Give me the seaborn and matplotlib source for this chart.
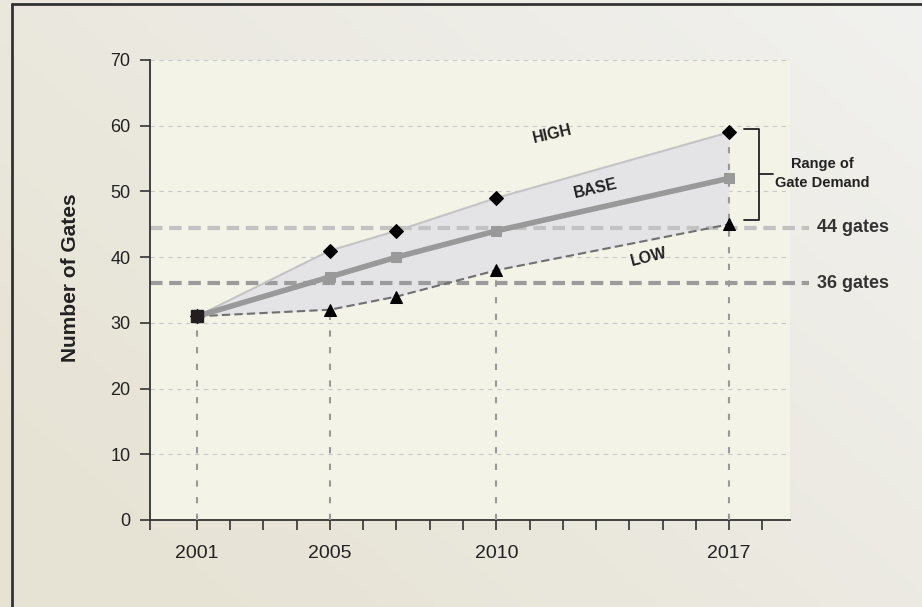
import matplotlib.pyplot as plt
import numpy as np
import seaborn as sns
from matplotlib.lines import Line2D

# values
years = [2001, 2005, 2007, 2010, 2017]
high = [31, 41, 44, 49, 59]
base = [31, 37, 40, 44, 52]
low = [31, 32, 34, 38, 45]
label_years = [2001, 2005, 2010, 2017]
ref_values = [44.5, 36]
ref_labels = ['44 gates', '36 gates']
ref_colors = ['#c2c2c2', '#9b9b9b']

sns.set_theme(style='white')
plt.rcParams['font.family'] = ['Liberation Sans', 'DejaVu Sans']

fig = plt.figure(figsize=(9.22, 6.07), dpi=100)

# soft diagonal background
bg = fig.add_axes([0, 0, 1, 1], zorder=-10)
gx, gy = np.meshgrid(np.linspace(0, 1, 200), np.linspace(0, 1, 200))
t = np.clip((1.3 * (1 - gx) + gy) / 2.0, 0, 1)[..., None]
c0 = np.array([0.945, 0.945, 0.937])
c1 = np.array([0.905, 0.89, 0.835])
bg.imshow(c0 * (1 - t) + c1 * t, aspect='auto', extent=[0, 1, 0, 1])
bg.axis('off')

ax = fig.add_axes([150 / 922, 87 / 607, 640 / 922, 460 / 607])
ax.set_facecolor('#f4f3e8')
ax.set_xlim(1999.59, 2018.83)
ax.set_ylim(0, 70)

ax.yaxis.grid(True, color='#c9c9c9', ls=(0, (4, 4)), lw=0.8, zorder=0)
ax.set_axisbelow(True)

# vertical guides at labelled years
for y in label_years:
    i = years.index(y)
    top = high[i] if y == years[-1] else low[i]
    ax.plot([y, y], [0, top], color='#999999', lw=1.5, ls=(0, (3, 5)), zorder=4)

ax.fill_between(years, low, high, color='#e4e4e7', lw=0, zorder=1)

for v, c in zip(ref_values, ref_colors):
    ax.axhline(v, xmin=0, xmax=1.03, color=c, lw=3, ls=(0, (3, 1.6)),
               clip_on=False, zorder=2)
for v, lab in zip(ref_values, ref_labels):
    ax.text(1.042, v, lab, transform=ax.get_yaxis_transform(), ha='left',
            va='center', fontsize=13, fontweight='bold', color='#333333')

sns.lineplot(x=years, y=high, ax=ax, color='#c4c4c4', lw=1.5, marker='D',
             markersize=7, markerfacecolor='black', markeredgecolor='black', zorder=5)
sns.lineplot(x=years, y=low, ax=ax, color='#707070', lw=1.5, ls=(0, (4, 2)),
             marker='^', markersize=8, markerfacecolor='black',
             markeredgecolor='black', zorder=5)
sns.lineplot(x=years, y=base, ax=ax, color='#999999', lw=4, marker='s',
             markersize=7.5, markerfacecolor='#999999', markeredgecolor='#999999',
             zorder=6)
ax.plot(years[0], base[0], marker='s', ms=8, color='#231f20', zorder=7)

ax.text(2011.7, 58.7, 'HIGH', rotation=13, ha='center', va='center',
        fontsize=11.5, fontweight='bold', color='#222222')
ax.text(2013.0, 50.5, 'BASE', rotation=13, ha='center', va='center',
        fontsize=11.5, fontweight='bold', color='#222222')
ax.text(2014.6, 40.0, 'LOW', rotation=14, ha='center', va='center',
        fontsize=11.5, fontweight='bold', color='#222222')

# bracket for the range
bt, bb = high[-1] + 0.5, low[-1] + 0.7
bm = (bt + bb) / 2
ax.plot([2017.45, 2017.9, 2017.9, 2017.45], [bt, bt, bb, bb],
        color='#222222', lw=1.3, clip_on=False, zorder=6)
ax.plot([2017.9, 2018.32], [bm, bm], color='#222222', lw=1.3, clip_on=False)
ax.text(2019.8, bm + 0.2, 'Range of\nGate Demand', ha='center', va='center',
        fontsize=10.5, fontweight='bold', color='#222222', linespacing=1.45)

ticks = [1999.59] + list(range(2001, 2019))
ax.set_xticks(ticks)
ax.set_xticklabels([str(t) if t in label_years else '' for t in ticks])
ax.set_yticks(range(0, 71, 10))
ax.tick_params(axis='both', direction='out', length=7.2, width=1.2,
               color='#333333', labelcolor='#222222', bottom=True, left=True)
ax.tick_params(axis='x', pad=11, labelsize=14)
ax.tick_params(axis='y', pad=7, labelsize=13)

for side in ['top', 'right']:
    ax.spines[side].set_visible(False)
for side in ['left', 'bottom']:
    ax.spines[side].set_color('#333333')
    ax.spines[side].set_linewidth(1.3)

ax.set_xlabel('')
ax.set_ylabel('Number of Gates', fontsize=15, fontweight='bold', color='#222222')
ax.yaxis.set_label_coords(-0.11, 0.527)

# frame lines
fig.add_artist(Line2D([12 / 922, 12 / 922], [0, 1 - 4 / 607], color='#333333', lw=2))
fig.add_artist(Line2D([12 / 922, 1], [1 - 4 / 607, 1 - 4 / 607], color='#333333', lw=2))

fig.savefig('out.png', dpi=100)
